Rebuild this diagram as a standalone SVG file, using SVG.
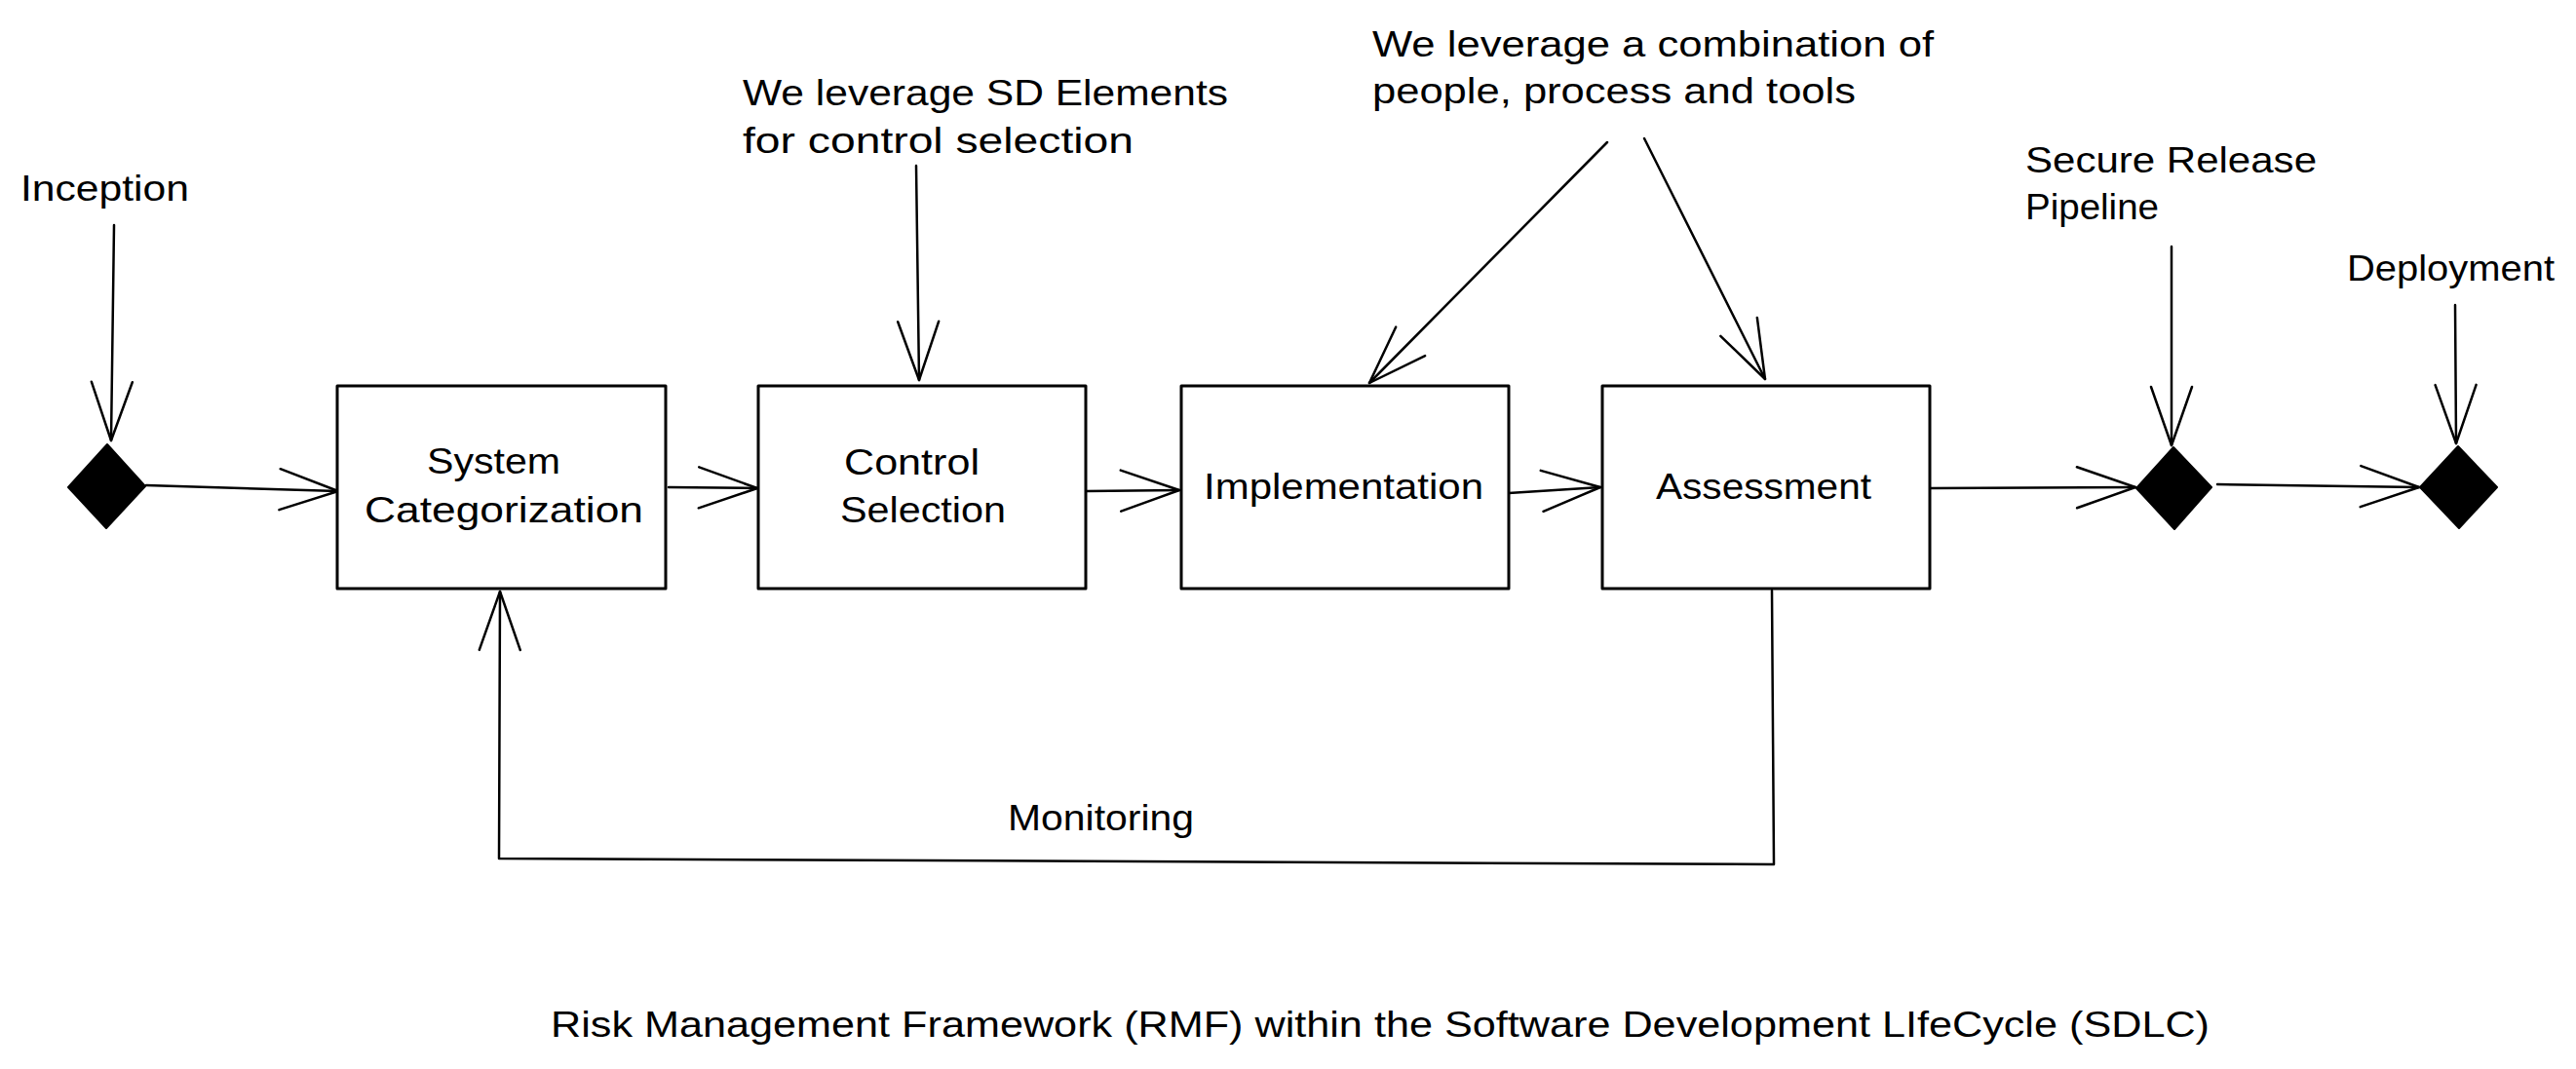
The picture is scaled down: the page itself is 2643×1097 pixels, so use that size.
<svg xmlns="http://www.w3.org/2000/svg" width="2643" height="1097" viewBox="0 0 2643 1097">
<style>
.bg{fill:#ffffff}
.box{fill:#ffffff;stroke:#000000;stroke-width:3;stroke-linejoin:round}
.dia{fill:#000000;stroke:#000000;stroke-width:2;stroke-linejoin:round}
.t{font-family:"Liberation Sans","Noto Sans",Arial,sans-serif;font-size:37px;fill:#000000}
.c{fill:none;stroke:#000000;stroke-width:2.5;stroke-linecap:round;stroke-linejoin:round}
</style>
<defs>
<marker id="ah" markerUnits="userSpaceOnUse" markerWidth="80" markerHeight="60" viewBox="-70 -30 80 60" refX="0" refY="0" orient="auto" overflow="visible">
<path d="M-60,-21 L0,0 L-60,21" fill="none" stroke="#000000" stroke-width="2.5" stroke-linecap="round" stroke-linejoin="round"/>
</marker>
</defs>
<rect class="bg" x="0" y="0" width="2643" height="1097"/>

<g id="connectors">
<path class="c" d="M117,231 L114,452" marker-end="url(#ah)"/>
<path class="c" d="M150,498 L347,504" marker-end="url(#ah)"/>
<path class="c" d="M686,500 L777,501" marker-end="url(#ah)"/>
<path class="c" d="M1115,504 L1210,503" marker-end="url(#ah)"/>
<path class="c" d="M1548,506 L1642,500" marker-end="url(#ah)"/>
<path class="c" d="M940,170 L943,390" marker-end="url(#ah)"/>
<path class="c" d="M1649,146 L1405,393" marker-end="url(#ah)"/>
<path class="c" d="M1687,142 L1811,389" marker-end="url(#ah)"/>
<path class="c" d="M1981,501 L2191,500" marker-end="url(#ah)"/>
<path class="c" d="M2228,253 L2228,457" marker-end="url(#ah)"/>
<path class="c" d="M2275,497 L2482,500" marker-end="url(#ah)"/>
<path class="c" d="M2519,313 L2520,455" marker-end="url(#ah)"/>
<path class="c" d="M1818,606 L1820,887 L512,881 L513,607" marker-end="url(#ah)"/>
</g>

<g id="inception-start">
<polygon class="dia" points="110,456 149,499 109,542 70,500"/>
</g>
<g id="system-categorization">
<rect class="box" x="346" y="396" width="337" height="208"/>
<text class="t" x="438" y="486" textLength="137" lengthAdjust="spacingAndGlyphs">System</text>
<text class="t" x="374" y="536" textLength="286" lengthAdjust="spacingAndGlyphs">Categorization</text>
</g>
<g id="control-selection">
<rect class="box" x="778" y="396" width="336" height="208"/>
<text class="t" x="866" y="487" textLength="139" lengthAdjust="spacingAndGlyphs">Control</text>
<text class="t" x="862" y="536" textLength="170" lengthAdjust="spacingAndGlyphs">Selection</text>
</g>
<g id="implementation">
<rect class="box" x="1212" y="396" width="336" height="208"/>
<text class="t" x="1235" y="512" textLength="287" lengthAdjust="spacingAndGlyphs">Implementation</text>
</g>
<g id="assessment">
<rect class="box" x="1644" y="396" width="336" height="208"/>
<text class="t" x="1699" y="512" textLength="221" lengthAdjust="spacingAndGlyphs">Assessment</text>
</g>
<g id="release-gate">
<polygon class="dia" points="2230,459 2269,500 2231,543 2192,501"/>
</g>
<g id="deployment-end">
<polygon class="dia" points="2522,458 2562,500 2523,542 2483,500"/>
</g>

<g id="labels">
<text class="t" x="21" y="206" textLength="173" lengthAdjust="spacingAndGlyphs">Inception</text>
<text class="t" x="762" y="108" textLength="498" lengthAdjust="spacingAndGlyphs">We leverage SD Elements</text>
<text class="t" x="762" y="157" textLength="401" lengthAdjust="spacingAndGlyphs">for control selection</text>
<text class="t" x="1408" y="58" textLength="576" lengthAdjust="spacingAndGlyphs">We leverage a combination of</text>
<text class="t" x="1408" y="106" textLength="496" lengthAdjust="spacingAndGlyphs">people, process and tools</text>
<text class="t" x="2078" y="177" textLength="299" lengthAdjust="spacingAndGlyphs">Secure Release</text>
<text class="t" x="2078" y="225" textLength="137" lengthAdjust="spacingAndGlyphs">Pipeline</text>
<text class="t" x="2408" y="288" textLength="213" lengthAdjust="spacingAndGlyphs">Deployment</text>
<text class="t" x="1034" y="852" textLength="191" lengthAdjust="spacingAndGlyphs">Monitoring</text>
<text class="t" x="565" y="1064" textLength="1702" lengthAdjust="spacingAndGlyphs">Risk Management Framework (RMF) within the Software Development LIfeCycle (SDLC)</text>
</g>
</svg>
